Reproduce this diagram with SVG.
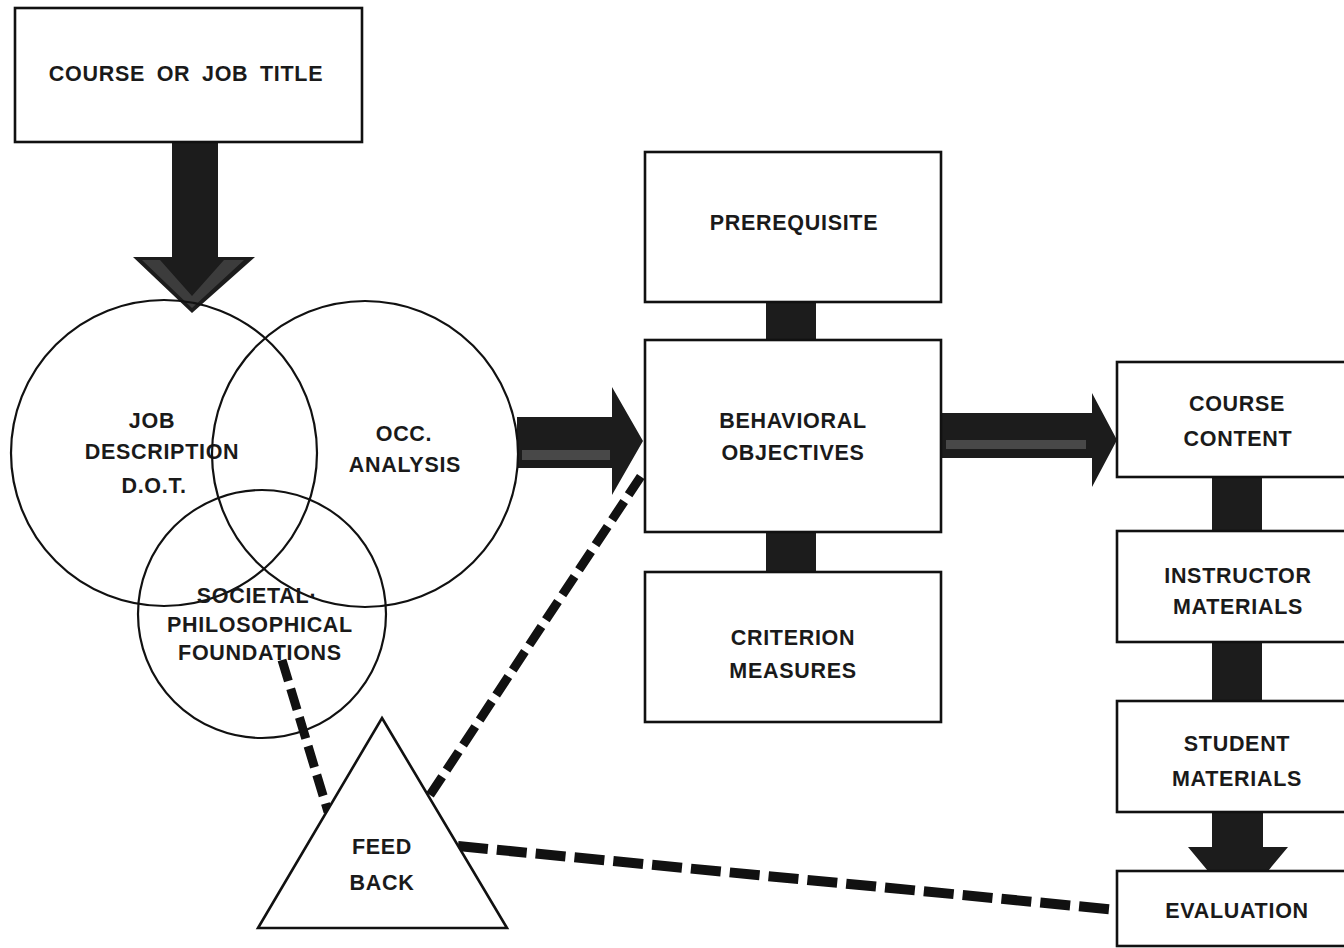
<svg xmlns="http://www.w3.org/2000/svg" width="1344" height="948" viewBox="0 0 1344 948">
<style>
.box{fill:#fff;stroke:#111;stroke-width:2.6}
.circ{fill:none;stroke:#111;stroke-width:2.2}
.t{font-family:"Liberation Sans",Arial,Helvetica,sans-serif;font-weight:bold;font-size:21.5px;fill:#1a1a1a;text-anchor:middle;letter-spacing:0.7px}
.arrow{fill:#1c1c1c}
.grain{fill:#9a9a9a;opacity:0.35}
.dash{stroke:#111;stroke-width:9;fill:none;stroke-dasharray:22 8}
.dash2{stroke:#111;stroke-width:10;fill:none;stroke-dasharray:30 9}
</style>
<rect width="1344" height="948" fill="#fff"/>

<g id="connectors">
  <!-- title to circles -->
  <polygon class="arrow" points="172,142 218,142 218,257 255,257 192,313 133,257 172,257"/>
  <polygon points="142,260 160,260 192,296 224,260 244,260 192,308" fill="#888" opacity="0.3"/>
  <!-- circles to behavioral -->
  <polygon class="arrow" points="517,417 612,417 612,387 643,441 612,495 612,468 517,468"/>
  <rect class="grain" x="522" y="450" width="88" height="10"/>
  <!-- behavioral to course content -->
  <polygon class="arrow" points="941,413 1092,413 1092,393 1117,440 1092,487 1092,458 941,458"/>
  <rect class="grain" x="946" y="440" width="140" height="9"/>
  <!-- prerequisite to behavioral -->
  <rect class="arrow" x="766" y="302" width="50" height="38"/>
  <!-- behavioral to criterion -->
  <rect class="arrow" x="766" y="532" width="50" height="40"/>
  <!-- course content to instructor -->
  <rect class="arrow" x="1212" y="477" width="50" height="54"/>
  <!-- instructor to student -->
  <rect class="arrow" x="1212" y="642" width="50" height="59"/>
  <!-- student to evaluation -->
  <polygon class="arrow" points="1212,812 1263,812 1263,847 1288,847 1238,907 1188,847 1212,847"/>
  <!-- feedback dashed lines -->
  <line class="dash" x1="282" y1="660" x2="328" y2="812"/>
  <line class="dash" x1="430" y1="795" x2="645" y2="470"/>
  <line class="dash2" x1="458" y1="846" x2="1117" y2="910"/>
</g>

<g id="course-title">
  <rect class="box" x="15" y="8" width="347" height="134"/>
  <text class="t" x="186" y="81" word-spacing="5">COURSE OR JOB TITLE</text>
</g>

<g id="job-description">
  <circle class="circ" cx="164" cy="453" r="153"/>
  <text class="t" x="152" y="428">JOB</text>
  <text class="t" x="162" y="459">DESCRIPTION</text>
  <text class="t" x="154" y="493">D.O.T.</text>
</g>

<g id="occ-analysis">
  <circle class="circ" cx="365" cy="454" r="153"/>
  <text class="t" x="404" y="441">OCC.</text>
  <text class="t" x="405" y="472">ANALYSIS</text>
</g>

<g id="societal">
  <circle class="circ" cx="262" cy="614" r="124"/>
  <text class="t" x="257" y="603">SOCIETAL·</text>
  <text class="t" x="260" y="632">PHILOSOPHICAL</text>
  <text class="t" x="260" y="660">FOUNDATIONS</text>
</g>

<g id="prerequisite">
  <rect class="box" x="645" y="152" width="296" height="150"/>
  <text class="t" x="794" y="230">PREREQUISITE</text>
</g>

<g id="behavioral-objectives">
  <rect class="box" x="645" y="340" width="296" height="192"/>
  <text class="t" x="793" y="428">BEHAVIORAL</text>
  <text class="t" x="793" y="460">OBJECTIVES</text>
</g>

<g id="criterion-measures">
  <rect class="box" x="645" y="572" width="296" height="150"/>
  <text class="t" x="793" y="645">CRITERION</text>
  <text class="t" x="793" y="678">MEASURES</text>
</g>

<g id="course-content">
  <rect class="box" x="1117" y="362" width="240" height="115"/>
  <text class="t" x="1237" y="411">COURSE</text>
  <text class="t" x="1238" y="446">CONTENT</text>
</g>

<g id="instructor-materials">
  <rect class="box" x="1117" y="531" width="240" height="111"/>
  <text class="t" x="1238" y="583">INSTRUCTOR</text>
  <text class="t" x="1238" y="614">MATERIALS</text>
</g>

<g id="student-materials">
  <rect class="box" x="1117" y="701" width="240" height="111"/>
  <text class="t" x="1237" y="751">STUDENT</text>
  <text class="t" x="1237" y="786">MATERIALS</text>
</g>

<g id="evaluation">
  <rect class="box" x="1117" y="871" width="240" height="75"/>
  <text class="t" x="1237" y="918">EVALUATION</text>
</g>

<g id="feedback">
  <polygon class="box" points="382,718 507,928 258,928"/>
  <text class="t" x="382" y="854">FEED</text>
  <text class="t" x="382" y="890">BACK</text>
</g>
</svg>
